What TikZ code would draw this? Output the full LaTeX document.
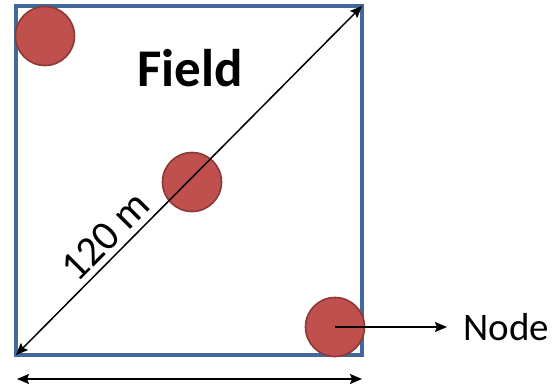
\documentclass[tikz,border=0pt]{standalone}
\usepackage{fontspec}
\setmainfont{Carlito}
\usepackage{xcolor}
\usetikzlibrary{arrows.meta, positioning}

\definecolor{fieldblue}{HTML}{41689C}
\definecolor{nodered}{HTML}{C0504D}
\definecolor{nodeedge}{HTML}{8C3836}

\begin{document}
\begin{tikzpicture}[
    x=1pt, y=-1pt,
    nodecirc/.style={circle, draw=nodeedge, fill=nodered, line width=1.6pt, minimum size=59pt, inner sep=0pt},
    arrow/.style={-{Stealth[length=12pt, width=10pt, inset=2pt]}, line width=1.5pt},
    dimarrow/.style={{Stealth[length=12pt, width=10pt, inset=2pt]}-{Stealth[length=12pt, width=10pt, inset=2pt]}, line width=1.5pt}
]
\useasboundingbox (0,0) rectangle (560,388);

% field border
\coordinate (sw) at (16,355);
\coordinate (ne) at (362,6);
\draw[fieldblue, line width=3.2pt] (sw) rectangle (ne);

\node[font=\fontsize{53}{60}\selectfont\bfseries] (field) at (190,68) {Field};

% sensor nodes
\node[nodecirc] (n1) at (45,36) {};
\node[nodecirc] (n2) at (192,182) {};
\node[nodecirc] (n3) at (335,327) {};

% diagonal
\draw[dimarrow] (sw) -- node[sloped, above, pos=0.3, inner sep=6pt, font=\fontsize{42}{48}\selectfont] (diag) {120 m} (ne);

% width
\coordinate (bl) at (17,379);
\coordinate (br) at (362,379);
\draw[dimarrow] (bl) -- (br);

% label for node
\node[anchor=west, font=\fontsize{39}{45}\selectfont] (lbl) at (460,327) {Node};
\draw[arrow, shorten >=13pt] (n3.center) -- (lbl.west);

\end{tikzpicture}
\end{document}
